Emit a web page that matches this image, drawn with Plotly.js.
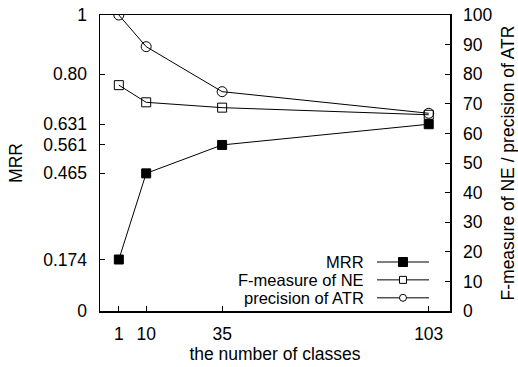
<!DOCTYPE html>
<html><head><meta charset="utf-8">
<script src="https://cdn.plot.ly/plotly-3.0.1.min.js"></script>
<style>html,body{margin:0;padding:0;background:#fff}</style>
</head><body>
<div id="chart" style="width:518px;height:367px"></div>
<script>
const classes = [1, 10, 35, 103];
const mrr = [0.174, 0.465, 0.561, 0.631];
const fmeasureNE = [76.3, 70.5, 68.7, 66.3];
const precisionATR = [100, 89.3, 74.1, 66.8];
const leftTicks = [0, 0.174, 0.465, 0.561, 0.631, 0.80, 1];
const leftTickText = ['0', '0.174', '0.465', '0.561', '0.631', '0.80', '1'];
const rightTicks = [0,10,20,30,40,50,60,70,80,90,100];
const seriesNames = ['MRR', 'F-measure of NE', 'precision of ATR'];

const FONT = {family: 'Liberation Sans, Arial, sans-serif', size: 17.5, color: '#000'};
const LFONT = {family: 'Liberation Sans, Arial, sans-serif', size: 16.5, color: '#000'};
const line = {color: '#000', width: 1};

const traces = [
  {x: classes, y: mrr, name: seriesNames[0], mode: 'lines+markers', line: line,
   marker: {symbol: 'square', size: 9, color: '#000', line: {color: '#000', width: 1}}, yaxis: 'y'},
  {x: classes, y: fmeasureNE, name: seriesNames[1], mode: 'lines+markers', line: line,
   marker: {symbol: 'square-open', size: 9, color: '#000', line: {color: '#000', width: 1}}, yaxis: 'y2'},
  {x: classes, y: precisionATR, name: seriesNames[2], mode: 'lines+markers', line: line,
   marker: {symbol: 'circle-open', size: 10, color: '#000', line: {color: '#000', width: 1}}, yaxis: 'y2'}
];

// custom legend (text right-aligned, sample on the right), positioned in paper coords
const W = 350, H = 296;
const rowsY = [0.1655, 0.1052, 0.0445];
const lx0 = 0.7914, lx1 = 0.94, mx = 0.8657, tx = 0.757;
const shapes = [];
const annotations = [];
rowsY.forEach((yy, i) => {
  const half = i === 0 ? 4.5 : 3.5;
  const hx = half / W, hy = half / H;
  shapes.push({type: 'line', xref: 'paper', yref: 'paper', x0: lx0, x1: lx1, y0: yy, y1: yy, line: line, layer: 'above'});
  if (i === 2) {
    shapes.push({type: 'circle', xref: 'paper', yref: 'paper', x0: mx - hx, x1: mx + hx, y0: yy - hy, y1: yy + hy,
      line: line, fillcolor: '#fff', layer: 'above'});
  } else {
    shapes.push({type: 'rect', xref: 'paper', yref: 'paper', x0: mx - hx, x1: mx + hx, y0: yy - hy, y1: yy + hy,
      line: line, fillcolor: i === 0 ? '#000' : '#fff', layer: 'above'});
  }
  annotations.push({xref: 'paper', yref: 'paper', x: tx, y: yy, xanchor: 'right', yanchor: 'middle',
    text: seriesNames[i], showarrow: false, font: LFONT, borderpad: 0});
});

const layout = {
  width: 518, height: 367,
  margin: {l: 100, r: 68, t: 15, b: 56},
  paper_bgcolor: '#fff', plot_bgcolor: '#fff',
  font: FONT,
  showlegend: false,
  xaxis: {
    range: [-5.2, 110], tickvals: classes, ticktext: classes.map(String),
    ticks: 'inside', ticklen: 5, tickcolor: '#000', tickwidth: 1,
    showgrid: false, zeroline: false, showline: true, linecolor: '#000', linewidth: 1.5, mirror: false,
    ticklabelstandoff: 6,
    title: {text: 'the number of classes', font: FONT, standoff: 5}
  },
  xaxis2: {overlaying: 'x', side: 'top', showline: true, linecolor: '#000', linewidth: 1.5, showticklabels: false, ticks: '', showgrid: false, zeroline: false, range: [0,1]},
  yaxis: {
    range: [0, 1], tickvals: leftTicks, ticktext: leftTickText,
    ticks: 'inside', ticklen: 5, tickcolor: '#000', tickwidth: 1,
    showgrid: false, zeroline: false, showline: true, linecolor: '#000', linewidth: 1.5,
    ticklabelstandoff: 8,
    title: {text: 'MRR', font: FONT, standoff: 16}
  },
  yaxis2: {
    range: [0, 100], tickvals: rightTicks, overlaying: 'y', side: 'right',
    ticks: 'inside', ticklen: 5, tickcolor: '#000', tickwidth: 1,
    showgrid: false, zeroline: false, showline: true, linecolor: '#000', linewidth: 1.5,
    ticklabelstandoff: 8,
    title: {text: 'F-measure of NE / precision of ATR', font: FONT, standoff: 15}
  },
  shapes: shapes,
  annotations: annotations
};
traces.push({x: [0], y: [0], xaxis: 'x2', yaxis: 'y', mode: 'markers', marker: {opacity: 0}, hoverinfo: 'skip', showlegend: false});

Plotly.newPlot('chart', traces, layout, {staticPlot: true, displayModeBar: false});
</script>
</body></html>
